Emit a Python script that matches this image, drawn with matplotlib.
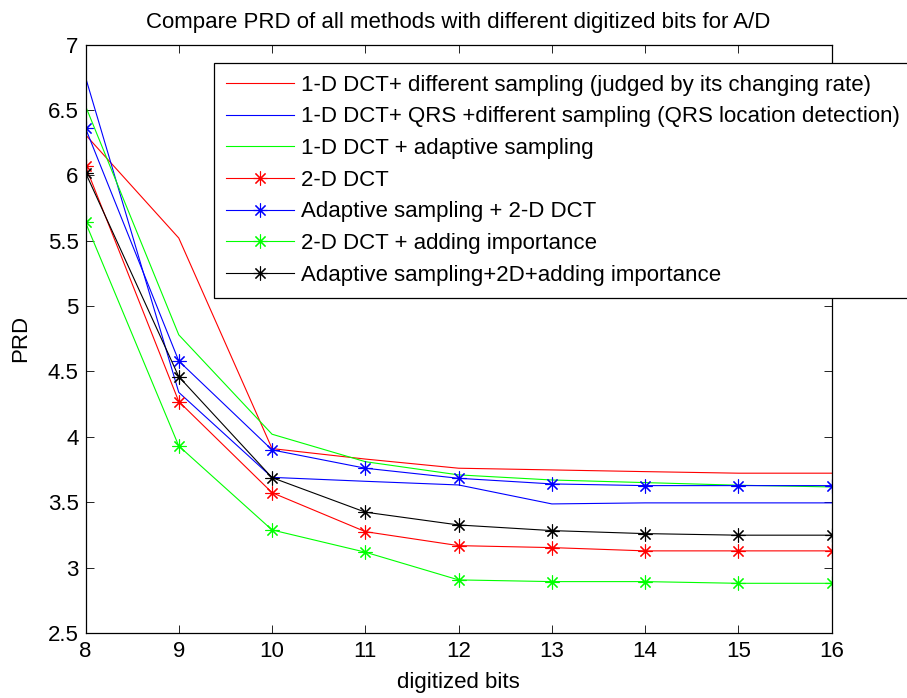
import matplotlib
matplotlib.use("Agg")
import matplotlib.pyplot as plt

plt.rcParams['font.family'] = ['Liberation Sans', 'DejaVu Sans']

# digitized bits on the x axis
bits = [8, 9, 10, 11, 12, 13, 14, 15, 16]

# PRD values
dct1d_rate = [6.31, 5.52, 3.91, 3.83, 3.76, 3.747, 3.734, 3.722, 3.722]
dct1d_qrs = [6.75, 4.34, 3.69, 3.66, 3.632, 3.487, 3.495, 3.495, 3.495]
dct1d_adaptive = [6.53, 4.78, 4.02, 3.81, 3.709, 3.67, 3.65, 3.63, 3.617]
dct2d = [6.07, 4.27, 3.573, 3.275, 3.168, 3.153, 3.128, 3.128, 3.128]
adaptive_2d = [6.36, 4.58, 3.90, 3.76, 3.683, 3.64, 3.627, 3.627, 3.627]
dct2d_importance = [5.64, 3.93, 3.288, 3.118, 2.906, 2.893, 2.893, 2.88, 2.88]
adaptive_2d_importance = [6.02, 4.46, 3.688, 3.424, 3.326, 3.283, 3.26, 3.248, 3.248]

labels = [
    '1-D DCT+ different sampling (judged by its changing rate)',
    '1-D DCT+ QRS +different sampling (QRS location detection)',
    '1-D DCT + adaptive sampling',
    '2-D DCT',
    'Adaptive sampling + 2-D DCT',
    '2-D DCT + adding importance',
    'Adaptive sampling+2D+adding importance',
]

FS = 16.0
ASTER = (8, 2, 0)  # matlab-like asterisk

fig = plt.figure(figsize=(9.07, 6.98), dpi=100)
ax = fig.add_axes([85.5 / 907, 65 / 698, 746.2 / 907, 588.5 / 698])

lw = 0.8
ax.plot(bits, dct1d_rate, color='red', lw=lw, label=labels[0])
ax.plot(bits, dct1d_qrs, color='blue', lw=lw, label=labels[1])
ax.plot(bits, dct1d_adaptive, color=(0, 1, 0), lw=lw, label=labels[2])
ax.plot(bits, dct2d, color='red', lw=lw, marker=ASTER, ms=10, mew=0.8, label=labels[3])
ax.plot(bits, adaptive_2d, color='blue', lw=lw, marker=ASTER, ms=10, mew=0.8, label=labels[4])
ax.plot(bits, dct2d_importance, color=(0, 1, 0), lw=lw, marker=ASTER, ms=10, mew=0.8, label=labels[5])
ax.plot(bits, adaptive_2d_importance, color='black', lw=lw, marker=ASTER, ms=10, mew=0.8, label=labels[6])

ax.set_xlim(8, 16)
ax.set_ylim(2.5, 7)
ax.set_xticks(bits)
ax.set_yticks([2.5, 3, 3.5, 4, 4.5, 5, 5.5, 6, 6.5, 7])
ax.set_yticklabels(['2.5', '3', '3.5', '4', '4.5', '5', '5.5', '6', '6.5', '7'])
ax.tick_params(direction='in', top=True, right=True, length=5.5, width=0.6,
               labelsize=FS)
ax.tick_params(axis='x', pad=6)
ax.tick_params(axis='y', pad=5)
for s in ax.spines.values():
    s.set_linewidth(0.9)

ax.set_title('Compare PRD of all methods with different digitized bits for A/D',
             fontsize=FS, pad=12)
ax.set_xlabel('digitized bits', fontsize=FS)
ax.set_ylabel('PRD', fontsize=FS)
ax.xaxis.set_label_coords(0.5, -0.066)
ax.yaxis.set_label_coords(-0.073, 0.5)

leg = fig.legend(loc='upper left', bbox_to_anchor=(214 / 907, 1 - 62.5 / 698),
                 fontsize=FS, numpoints=1, handlelength=3.05, handletextpad=0.3,
                 labelspacing=0.48, borderpad=0.55, borderaxespad=0,
                 fancybox=False, framealpha=1, edgecolor='black')
leg.get_frame().set_linewidth(0.9)

fig.savefig('out.png', dpi=100)
